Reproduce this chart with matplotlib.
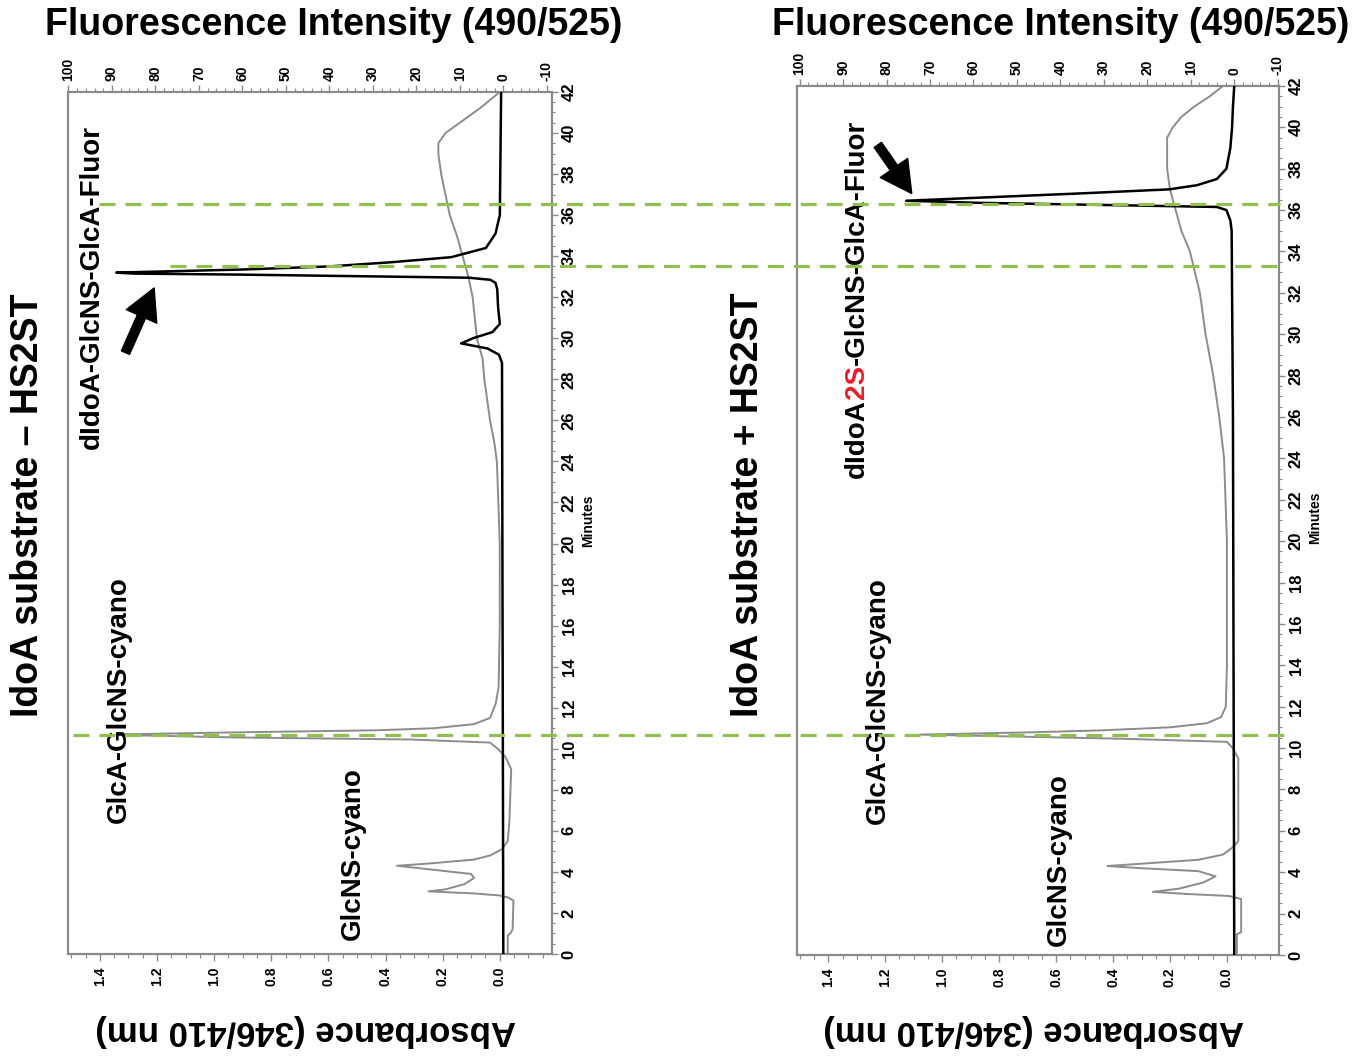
import matplotlib
matplotlib.use('Agg')
import matplotlib.pyplot as plt
from matplotlib.lines import Line2D
from matplotlib.ticker import MultipleLocator, FixedLocator, FuncFormatter
import matplotlib.transforms as mtransforms

plt.rcParams['font.family'] = ['Liberation Sans', 'DejaVu Sans']
plt.rcParams['font.weight'] = 'bold'
plt.rcParams['lines.scale_dashes'] = False
plt.rcParams['axes.unicode_minus'] = False

# ---------------- data ----------------
# Left panel (IdoA substrate - HS2ST): absorbance trace (grey)
left_abs_min = [0.0, 0.9, 1.0, 1.2, 2.6, 2.75, 2.85, 2.95, 3.05, 3.15, 3.4, 3.7, 3.9, 4.1, 4.3, 4.4,
                4.6, 4.8, 5.1, 5.5, 6.5, 9.0, 9.6, 10.0, 10.3, 10.45, 10.55, 10.65, 10.7, 10.8, 10.9,
                11.0, 11.2, 11.5, 12.0, 12.2, 13.0, 16.0, 20.0, 24.0, 25.0, 26.0, 28.0, 29.0, 30.0,
                32.0, 33.0, 34.0, 35.0, 36.0, 37.0, 38.0, 39.0, 39.5, 40.0, 40.3, 40.7, 41.2, 41.6, 42.0]
left_abs_val = [-0.028, -0.028, -0.037, -0.045, -0.048, -0.03, 0.0, 0.09, 0.25, 0.19, 0.124, 0.09, 0.10,
                0.23, 0.36, 0.255, 0.09, 0.034, -0.007, -0.028, -0.034, -0.04, -0.02, 0.007, 0.034, 0.31,
                0.92, 1.26, 1.33, 0.92, 0.43, 0.23, 0.09, 0.034, 0.02, 0.014, 0.004, 0.0, 0.0, 0.01, 0.02,
                0.034, 0.054, 0.06, 0.08, 0.095, 0.11, 0.13, 0.15, 0.175, 0.19, 0.205, 0.215, 0.215,
                0.19, 0.16, 0.12, 0.07, 0.035, 0.0]
# Left panel: fluorescence trace (black)
left_flu_min = [0.0, 28.8, 29.2, 29.5, 29.75, 30.0, 30.3, 30.7, 31.5, 32.4, 32.7, 32.85, 32.95, 33.0,
                33.1, 33.15, 33.2, 33.35, 33.5, 33.7, 33.95, 34.4, 35.1, 36.0, 42.0]
left_flu_val = [0.0, 0.3, 1.0, 3.6, 9.7, 7.0, 2.5, 0.8, 1.2, 1.4, 1.8, 3.0, 8.0, 25.0,
                60.0, 85.0, 89.0, 60.0, 40.0, 26.0, 12.0, 4.0, 1.8, 0.8, 0.5]

# Right panel (IdoA substrate + HS2ST): absorbance trace (grey)
right_abs_min = [0.0, 1.0, 1.1, 2.7, 2.85, 2.95, 3.05, 3.2, 3.5, 3.8, 4.05, 4.2, 4.3, 4.4, 4.6, 4.85,
                 5.2, 5.5, 9.5, 10.0, 10.3, 10.45, 10.55, 10.65, 10.75, 10.85, 11.0, 11.2, 11.5, 12.0,
                 14.0, 20.0, 24.0, 26.0, 28.0, 30.0, 32.0, 34.0, 35.0, 36.0, 37.0, 38.0, 39.5, 40.0,
                 40.5, 41.0, 41.5, 42.0]
right_abs_val = [-0.035, -0.035, -0.05, -0.05, -0.007, 0.145, 0.26, 0.17, 0.083, 0.04, 0.10, 0.31, 0.42,
                 0.31, 0.10, 0.014, -0.02, -0.04, -0.04, -0.02, 0.0, 0.37, 0.72, 1.08, 0.72, 0.45, 0.2,
                 0.07, 0.02, 0.004, 0.0, 0.0, 0.01, 0.027, 0.048, 0.075, 0.095, 0.13, 0.16, 0.18, 0.20,
                 0.21, 0.21, 0.19, 0.16, 0.115, 0.06, 0.014]
# Right panel: fluorescence trace (black)
right_flu_min = [0.0, 26.0, 35.0, 35.5, 36.0, 36.15, 36.25, 36.35, 36.45, 36.6, 36.8, 37.0, 37.2, 37.5,
                 38.0, 39.0, 40.0, 41.0, 42.0]
right_flu_val = [0.0, 0.3, 0.6, 0.9, 1.8, 4.0, 31.0, 59.0, 75.5, 58.6, 35.9, 15.0, 8.6, 4.0,
                 1.8, 0.9, 0.5, 0.3, 0.0]

minute_ticks = list(range(0, 43, 2))
abs_ticks = [0.0, 0.2, 0.4, 0.6, 0.8, 1.0, 1.2, 1.4]
flu_ticks = [-10, 0, 10, 20, 30, 40, 50, 60, 70, 80, 90, 100]
panel_titles = ['IdoA substrate \u2013 HS2ST', 'IdoA substrate + HS2ST']
top_label = 'Fluorescence Intensity (490/525)'
bottom_label = 'Absorbance (346/410 nm)'
# guide lines: (minute, start fluor on left panel, end fluor on right panel)
guide_minutes = [36.55, 33.5, 10.65]
guide_start_flu = [93.0, 76.7, 99.0]
guide_end_flu = [-10.5, -11.3, -12.0]

GREY = '#8c8c8c'
SPINE = '#8a8a8a'
GREEN = '#92c050'

fig = plt.figure(figsize=(13.64, 10.62), dpi=100)


def setup(rect, flu_lim):
    ax = fig.add_axes(rect)
    ax.set_xlim(1.51, -0.183)
    ax.set_ylim(0, 42)
    ax.xaxis.set_major_locator(FixedLocator(abs_ticks))
    ax.xaxis.set_minor_locator(MultipleLocator(0.05))
    ax.xaxis.set_major_formatter(FuncFormatter(lambda v, p: f'{v:.1f}'))
    ax.yaxis.tick_right()
    ax.yaxis.set_major_locator(FixedLocator(minute_ticks))
    ax.yaxis.set_minor_locator(MultipleLocator(0.5))
    ax.tick_params(axis='x', which='major', direction='out', length=5, width=1, color=SPINE,
                   labelrotation=90, labelsize=10, pad=4)
    ax.tick_params(axis='x', which='minor', direction='out', length=3, width=0.8, color=SPINE)
    ax.tick_params(axis='y', which='major', direction='out', length=4, width=1, color=SPINE,
                   labelrotation=90, labelsize=12, pad=3)
    ax.tick_params(axis='y', which='minor', direction='out', length=2, width=0.8, color=SPINE)
    for lab in ax.get_yticklabels():
        lab.set_verticalalignment('center')
    for s in ax.spines.values():
        s.set_color(SPINE)
        s.set_linewidth(1.5)
    axt = ax.twiny()
    axt.set_xlim(*flu_lim)
    axt.xaxis.set_major_locator(FixedLocator(flu_ticks))
    axt.xaxis.set_minor_locator(MultipleLocator(2))
    axt.xaxis.set_major_formatter(FuncFormatter(lambda v, p: f'{v:.0f}'))
    axt.tick_params(axis='x', which='major', direction='out', length=5, width=1, color=SPINE,
                    labelrotation=90, labelsize=10, pad=3)
    axt.tick_params(axis='x', which='minor', direction='out', length=3, width=0.8, color=SPINE)
    for s in axt.spines.values():
        s.set_color(SPINE)
        s.set_linewidth(1.5)
    return ax, axt


axL, axLt = setup([0.0502, 0.1017, 0.3545, 0.8117], (100.0, -11.2))
axR, axRt = setup([0.5843, 0.1008, 0.3534, 0.8183], (100.6, -10.3))

axL.plot(left_abs_val, left_abs_min, color=GREY, lw=1.4, zorder=2)
axLt.plot(left_flu_val, left_flu_min, color='black', lw=1.8, zorder=3)
axR.plot(right_abs_val, right_abs_min, color=GREY, lw=1.4, zorder=2)
axRt.plot(right_flu_val, right_flu_min, color='black', lw=1.8, zorder=3)

for ax, title, tx in [(axL, panel_titles[0], -0.084), (axR, panel_titles[1], -0.102)]:
    tr = mtransforms.blended_transform_factory(ax.transAxes, fig.transFigure)
    ax.text(tx, 0.5245, title, transform=tr, rotation=90, ha='center', va='center',
            fontsize=27, fontweight='bold')
    ax.text(0.548, 1 - 25 / 1062, top_label, transform=tr, ha='center', va='center',
            fontsize=27, fontweight='bold')
    ax.text(0.49, 1 - 1030 / 1062, bottom_label, transform=tr, rotation=180, ha='center',
            va='center', fontsize=25, fontweight='bold')
    ax.text(1.074, 0.503, 'Minutes', transform=ax.transAxes, rotation=90, ha='center',
            va='center', fontsize=10, fontweight='bold')

# peak labels
lab_kw = dict(rotation=90, ha='center', va='center', fontsize=20, fontweight='bold')
axLt.text(94.7, 32.48, 'dIdoA-GlcNS-GlcA-Fluor', **lab_kw)
axLt.text(88.5, 12.4, 'GlcA-GlcNS-cyano', **lab_kw)
axLt.text(34.7, 4.9, 'GlcNS-cyano', **lab_kw)
axRt.text(82.0, 12.3, 'GlcA-GlcNS-cyano', **lab_kw)
axRt.text(40.4, 4.6, 'GlcNS-cyano', **lab_kw)

# arrows
arrow_kw = dict(arrowstyle='simple,head_width=1.5,head_length=1.4,tail_width=0.4',
                color='black', mutation_scale=16, shrinkA=0, shrinkB=0)
axLt.annotate('', xy=(80.3, 32.45), xytext=(86.9, 29.3), arrowprops=arrow_kw, zorder=5)
axRt.annotate('', xy=(74.2, 36.8), xytext=(82.0, 39.15), arrowprops=arrow_kw, zorder=5)

fig.canvas.draw()
renderer = fig.canvas.get_renderer()

# multi-coloured label on right panel
pieces = [('dIdoA', 'black'), ('2S', '#e8202a'), ('-GlcNS-GlcA-Fluor', 'black')]
x_lab, y_lab = 86.9, 23.05
for txt, col in pieces:
    t = axRt.text(x_lab, y_lab, txt, rotation=90, ha='center', va='bottom', fontsize=20,
                  fontweight='bold', color=col)
    bb = t.get_window_extent(renderer)
    xd = axRt.transData.transform((x_lab, y_lab))[0]
    y_lab = axRt.transData.inverted().transform((xd, bb.y1))[1]

# green guide lines spanning both panels
inv = fig.transFigure.inverted()
for m, xs, xe in zip(guide_minutes, guide_start_flu, guide_end_flu):
    p0 = inv.transform(axLt.transData.transform((xs, m)))
    p1x = inv.transform(axRt.transData.transform((xe, 0)))[0]
    ln = Line2D([p0[0], p1x], [p0[1], p0[1]], transform=fig.transFigure, color=GREEN, lw=2.3,
                linestyle=(0, (11.5, 7.2)), zorder=10)
    fig.add_artist(ln)

fig.savefig('out.png', dpi=100)
